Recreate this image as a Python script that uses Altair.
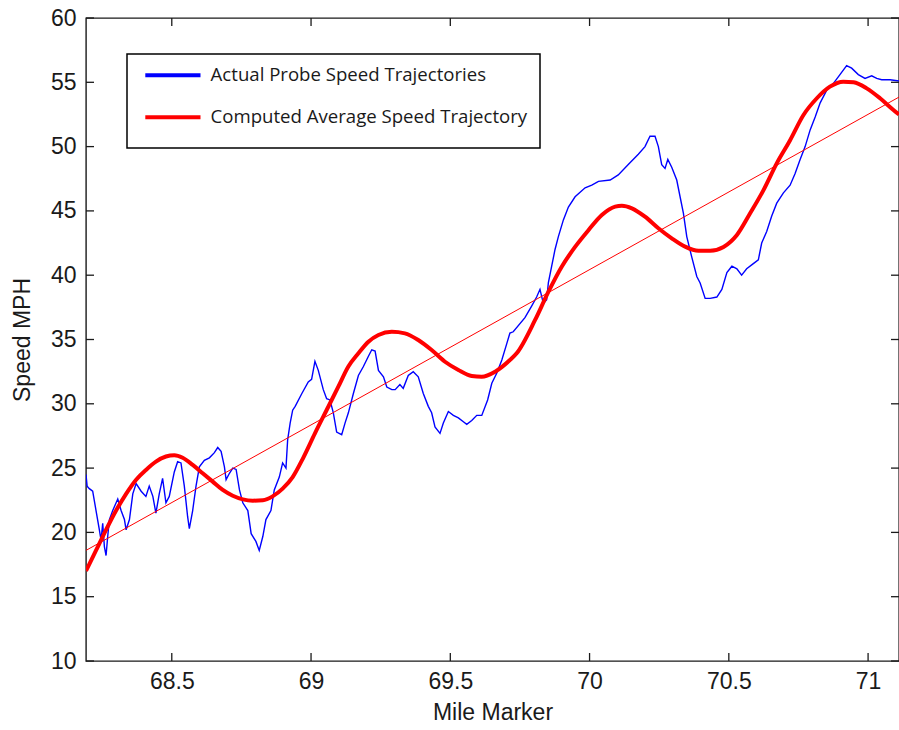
import altair as alt
import pandas as pd

# ---------------- data ----------------
series_names = ["Actual Probe Speed Trajectories", "Computed Average Speed Trajectory"]

probe_mile = [
    68.192, 68.196, 68.204, 68.216, 68.228, 68.240, 68.246, 68.252, 68.258, 68.264,
    68.270, 68.276, 68.288, 68.306, 68.318, 68.330, 68.336, 68.348, 68.360, 68.372,
    68.390, 68.407, 68.419, 68.432, 68.443, 68.455, 68.467, 68.479, 68.491, 68.509,
    68.521, 68.533, 68.545, 68.557, 68.563, 68.575, 68.587, 68.599, 68.617, 68.635,
    68.653, 68.665, 68.677, 68.689, 68.695, 68.707, 68.719, 68.731, 68.743, 68.755,
    68.773, 68.785, 68.802, 68.814, 68.827, 68.838, 68.856, 68.868, 68.886, 68.898,
    68.910, 68.916, 68.925, 68.934, 68.943, 68.967, 68.990, 69.002, 69.014, 69.026,
    69.044, 69.056, 69.068, 69.080, 69.092, 69.110, 69.122, 69.134, 69.152, 69.170,
    69.188, 69.206, 69.218, 69.230, 69.242, 69.260, 69.272, 69.290, 69.302, 69.319,
    69.331, 69.349, 69.367, 69.385, 69.403, 69.421, 69.433, 69.445, 69.463, 69.475,
    69.493, 69.511, 69.529, 69.547, 69.559, 69.577, 69.595, 69.613, 69.634, 69.649,
    69.667, 69.685, 69.703, 69.714, 69.726, 69.768, 69.792, 69.810, 69.822, 69.834,
    69.846, 69.852, 69.864, 69.876, 69.888, 69.906, 69.924, 69.948, 69.984, 70.008,
    70.032, 70.074, 70.103, 70.139, 70.175, 70.199, 70.217, 70.235, 70.247, 70.259,
    70.271, 70.281, 70.295, 70.313, 70.325, 70.337, 70.349, 70.367, 70.385, 70.397,
    70.415, 70.433, 70.457, 70.475, 70.493, 70.511, 70.529, 70.546, 70.564, 70.588,
    70.606, 70.618, 70.636, 70.654, 70.672, 70.696, 70.720, 70.738, 70.756, 70.774,
    70.792, 70.810, 70.828, 70.852, 70.875, 70.899, 70.923, 70.941, 70.965, 70.989,
    71.013, 71.031, 71.049, 71.079, 71.111,
]
probe_speed = [
    24.5, 23.6, 23.4, 23.2, 21.7, 20.2, 19.4, 20.7, 18.9, 18.2,
    19.7, 21.0, 21.7, 22.6, 21.7, 21.0, 20.2, 21.0, 23.0, 23.8,
    23.2, 22.8, 23.6, 22.8, 21.5, 23.0, 24.2, 22.3, 22.8, 24.7,
    25.5, 25.4, 23.6, 21.2, 20.3, 21.7, 23.6, 25.1, 25.6, 25.8,
    26.2, 26.6, 26.3, 25.1, 24.1, 24.6, 25.0, 24.9, 23.3, 22.3,
    21.7, 19.9, 19.3, 18.6, 19.7, 21.0, 21.7, 23.3, 24.3, 25.4,
    25.0, 27.2, 28.5, 29.5, 29.8, 30.8, 31.7, 31.9, 33.3, 32.6,
    31.1, 30.4, 30.3, 29.3, 27.8, 27.6, 28.5, 29.3, 30.8, 32.2,
    32.9, 33.7, 34.2, 34.1, 32.6, 32.1, 31.3, 31.1, 31.1, 31.5,
    31.2, 32.2, 32.5, 32.1, 30.8, 29.8, 29.3, 28.2, 27.7, 28.5,
    29.4, 29.1, 28.9, 28.6, 28.4, 28.7, 29.1, 29.1, 30.3, 31.6,
    32.4, 33.4, 34.7, 35.5, 35.6, 36.7, 37.6, 38.3, 38.9, 37.8,
    38.1, 39.4, 40.7, 42.0, 43.0, 44.3, 45.3, 46.1, 46.8, 47.0,
    47.3, 47.4, 47.8, 48.6, 49.4, 50.0, 50.8, 50.8, 50.0, 48.6,
    48.3, 49.0, 48.4, 47.4, 46.1, 44.8, 43.0, 41.4, 39.9, 39.4,
    38.2, 38.2, 38.3, 38.9, 40.2, 40.7, 40.5, 40.0, 40.5, 40.9,
    41.2, 42.5, 43.4, 44.6, 45.6, 46.4, 47.0, 47.9, 49.0, 50.0,
    51.3, 52.3, 53.4, 54.4, 54.9, 55.6, 56.3, 56.1, 55.6, 55.3,
    55.5, 55.3, 55.2, 55.2, 55.1,
]

avg_mile = [
    68.192, 68.228, 68.264, 68.300, 68.336, 68.372, 68.407, 68.443, 68.479, 68.509,
    68.539, 68.575, 68.611, 68.647, 68.683, 68.719, 68.755, 68.791, 68.827, 68.862,
    68.898, 68.934, 68.972, 69.014, 69.062, 69.098, 69.134, 69.170, 69.206, 69.242,
    69.290, 69.337, 69.385, 69.433, 69.481, 69.529, 69.577, 69.613, 69.661, 69.714,
    69.739, 69.804, 69.852, 69.900, 69.948, 69.996, 70.044, 70.092, 70.116, 70.152,
    70.199, 70.247, 70.295, 70.343, 70.391, 70.433, 70.481, 70.529, 70.576, 70.624,
    70.672, 70.720, 70.768, 70.816, 70.863, 70.911, 70.948, 70.995, 71.043, 71.091,
    71.111,
]
avg_speed = [
    17.0, 18.6, 20.2, 21.7, 23.0, 24.1, 24.85, 25.5, 25.9, 26.0,
    25.8, 25.25, 24.6, 23.95, 23.3, 22.85, 22.57, 22.47, 22.5, 22.8,
    23.4, 24.3, 25.8, 27.7, 29.77, 31.33, 32.9, 33.93, 34.83, 35.35,
    35.6, 35.48, 34.96, 34.18, 33.27, 32.63, 32.16, 32.1, 32.5, 33.4,
    33.95, 36.5, 38.7, 40.66, 42.2, 43.5, 44.68, 45.33, 45.4, 45.2,
    44.55, 43.65, 42.87, 42.22, 41.9, 41.9, 42.2, 43.13, 44.8, 46.6,
    48.7, 50.5, 52.46, 53.76, 54.66, 55.05, 55.0, 54.53, 53.76, 52.85,
    52.5,
]

trend_mile = [68.192, 71.111]
trend_speed = [18.6, 53.85]

x_ticks = [68.5, 69, 69.5, 70, 70.5, 71]
y_ticks = [10, 15, 20, 25, 30, 35, 40, 45, 50, 55, 60]
x_domain = [68.192, 71.111]
y_domain = [10, 60]

# ---------------- tables ----------------
probe_df = pd.DataFrame({"mile": probe_mile, "speed": probe_speed, "series": series_names[0]})
avg_df = pd.DataFrame({"mile": avg_mile, "speed": avg_speed, "series": series_names[1]})
trend_df = pd.DataFrame({"mile": trend_mile, "speed": trend_speed})
xt_df = pd.DataFrame({"mile": x_ticks})
yt_df = pd.DataFrame({"speed": y_ticks})

W, H = 813, 643
FONT = "Liberation Sans"
TICK_LEN = 8

x_scale = alt.Scale(domain=x_domain, nice=False, zero=False)
y_scale = alt.Scale(domain=y_domain, nice=False, zero=False)

x_axis = alt.Axis(values=x_ticks, title="Mile Marker", grid=False, domain=False, ticks=False,
                  tickSize=0, labelPadding=9, titlePadding=8, labelFlush=False,
                  labelOverlap=False, format="~g")
y_axis = alt.Axis(values=y_ticks, title="Speed MPH", grid=False, domain=False, ticks=False,
                  tickSize=0, labelPadding=10, titlePadding=16, labelFlush=False,
                  labelOverlap=False)

color_scale = alt.Scale(domain=series_names, range=["#0000FF", "#FF0000"])
legend = alt.Legend(orient="none", legendX=41, legendY=36,
                    title=" ", titleOrient="bottom", titleFontSize=7, titlePadding=2,
                    symbolType="M-0.5,0L8.7,0", symbolSize=144, symbolStrokeWidth=4,
                    labelFont="Open Sans", labelFontSize=18.6, labelColor="#1a1a1a",
                    labelLimit=500, labelOffset=53,
                    strokeColor="#000000", fillColor="#FFFFFF",
                    padding=12, rowPadding=23)

probe = alt.Chart(probe_df).mark_line(strokeWidth=1.4, clip=True).encode(
    x=alt.X("mile:Q", scale=x_scale, axis=x_axis),
    y=alt.Y("speed:Q", scale=y_scale, axis=y_axis),
    color=alt.Color("series:N", scale=color_scale, legend=legend),
    order="mile:Q",
)

trend = alt.Chart(trend_df).mark_line(strokeWidth=1, color="#FF0000", clip=True).encode(
    x=alt.X("mile:Q", scale=x_scale),
    y=alt.Y("speed:Q", scale=y_scale),
)

avg = alt.Chart(avg_df).mark_line(strokeWidth=4, interpolate="monotone", clip=True).encode(
    x=alt.X("mile:Q", scale=x_scale),
    y=alt.Y("speed:Q", scale=y_scale),
    color=alt.Color("series:N", scale=color_scale, legend=legend),
    order="mile:Q",
)

tick_color = "#1a1a1a"
bottom_ticks = alt.Chart(xt_df).mark_rule(color=tick_color, strokeWidth=1.3).encode(
    x=alt.X("mile:Q", scale=x_scale), y=alt.value(H - TICK_LEN), y2=alt.value(H))
top_ticks = alt.Chart(xt_df).mark_rule(color=tick_color, strokeWidth=1.3).encode(
    x=alt.X("mile:Q", scale=x_scale), y=alt.value(0), y2=alt.value(TICK_LEN))
left_ticks = alt.Chart(yt_df).mark_rule(color=tick_color, strokeWidth=1.3).encode(
    y=alt.Y("speed:Q", scale=y_scale), x=alt.value(0), x2=alt.value(TICK_LEN))
right_ticks = alt.Chart(yt_df).mark_rule(color=tick_color, strokeWidth=1.3).encode(
    y=alt.Y("speed:Q", scale=y_scale), x=alt.value(W - TICK_LEN), x2=alt.value(W))

chart = alt.layer(
    probe, trend, avg, bottom_ticks, top_ticks, left_ticks, right_ticks
).properties(
    width=W, height=H,
    autosize=alt.AutoSizeParams(type="none"),
    padding={"left": 86, "top": 18, "right": 0, "bottom": 69},
    background="#FFFFFF",
).configure_view(
    stroke="#1a1a1a", strokeWidth=1.4,
).configure_axis(
    labelFont=FONT, labelFontSize=23, labelColor="#1a1a1a",
    titleFont=FONT, titleFontSize=23, titleColor="#1a1a1a", titleFontWeight="normal",
).configure_legend(
    strokeWidth=1.5,
)

chart.save("out.html", embed_options={"renderer": "svg", "actions": False})
